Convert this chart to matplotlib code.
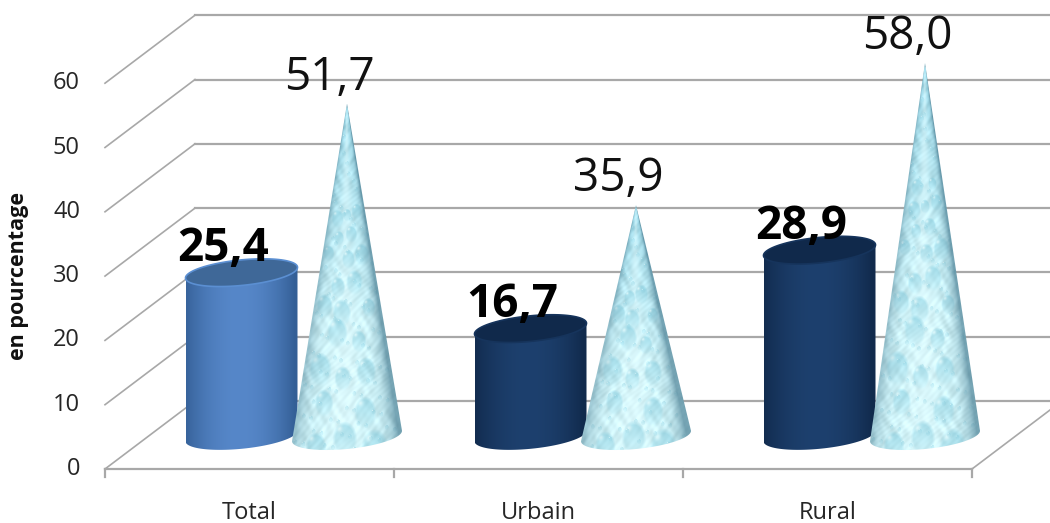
import numpy as np
import matplotlib
matplotlib.use("Agg")
import matplotlib.pyplot as plt
from matplotlib.patches import Polygon
from matplotlib.colors import to_rgb

plt.rcParams['font.family'] = ['Open Sans', 'DejaVu Sans']

# ---- data ----
categories = ['Total', 'Urbain', 'Rural']
series_cyl = [25.4, 16.7, 28.9]
series_cone = [51.7, 35.9, 58.0]
yticks = [0, 10, 20, 30, 40, 50, 60]
ylabel = 'en pourcentage'

W, H = 1050, 523
PX_CAT = 289.0          # pixels per category
PX_VAL = 6.43           # pixels per value unit
X0_PX, Y0_PX = 249.5, 469.0

fig = plt.figure(figsize=(W / 100, H / 100), dpi=100, facecolor='white')
ax = fig.add_axes([0, 0, 1, 1])
ax.set_axis_off()
xlim = (-X0_PX / PX_CAT, (W - X0_PX) / PX_CAT)
ylim = (-(H - Y0_PX) / PX_VAL, Y0_PX / PX_VAL)


def dx(px):
    return px / PX_CAT


def dy(px):
    return px / PX_VAL


GRID = '#a8a8a8'
TXT = '#262626'
DEPTH_X, DEPTH_Y = dx(90), dy(68)
left, right = -0.5, len(categories) - 0.5

# walls / floor
for t in yticks:
    ax.plot([left, left + DEPTH_X], [t, t + DEPTH_Y], color=GRID, lw=1.2, zorder=1)
    ax.plot([left + DEPTH_X, xlim[1]], [t + DEPTH_Y, t + DEPTH_Y], color=GRID, lw=1.6, zorder=1)
    ax.text(left - dx(25), t, str(t), ha='right', va='center', fontsize=17, color=TXT)
ax.plot([right, right + dx(78)], [0, dy(59)], color=GRID, lw=1.2, zorder=1)
ax.plot([left, right], [0, 0], color=GRID, lw=1.6, zorder=1)
for i in range(len(categories) + 1):
    ax.plot([left + i] * 2, [0, -dy(8)], color=GRID, lw=1.6, zorder=1)
for i, c in enumerate(categories):
    ax.text(i, -dy(44), c, ha='center', va='center', fontsize=17, color=TXT)
ax.text(dx(19 - X0_PX), dy(Y0_PX - 276), ylabel, rotation=90, ha='center', va='center',
        fontsize=15.5, fontweight='bold', color='#111111')

BASE_CYL = dy(469 - 436)     # foot of the cylinders over the front axis
BASE_CONE = dy(469 - 436)    # foot of the cones over the front axis
SHEAR = -0.095               # tilt of the ellipses (px/px)


def ellipse(cx, cy, a, b, t):
    """cx in categories, cy in values; a, b in px."""
    return np.column_stack([cx + dx(a * np.cos(t)),
                            cy + dy(-SHEAR * a * np.cos(t) + b * np.sin(t))])


def cyl_gradient(c_edge, c_mid):
    s = np.linspace(-1, 1, 200)
    k = np.clip(1 - np.abs(s + 0.05) ** 2.0, 0, 1)[None, :, None]
    return np.array(to_rgb(c_edge)) * (1 - k) + np.array(to_rgb(c_mid)) * k


def cone_texture(w, h):
    y, x = np.mgrid[0:h, 0:w].astype(float)
    v = (y + 0.5) / h                      # 0 at the tip, 1 at the base
    half = np.maximum(v * w / 2, 0.5)
    s = (x + 0.5 - w / 2) / half
    top = np.array([0.62, 0.85, 0.91])
    bot = np.array([0.82, 0.96, 0.98])
    mott = (0.30 * np.sin(x * 0.55 + np.sin(y * 0.13) * 3)
            + 0.30 * np.sin(y * 0.31 + np.sin(x * 0.21) * 3)
            + 0.20 * np.sin((x + y) * 0.93 + np.sin(y * 0.07) * 4)
            + 0.20 * np.sin((x - 1.3 * y) * 0.17))
    vv = np.clip(v * 1.6, 0, 1)[..., None]
    img = top * (1 - vv) + bot * vv
    img = img + mott[..., None] * 0.085
    # soft white band down the middle
    band = (np.exp(-((s + 0.05) / 0.35) ** 2) * 0.45)[..., None]
    img = img * (1 - band) + np.array([0.90, 0.99, 1.0]) * band
    blue = np.array([0.52, 0.80, 0.87])
    light = np.array([0.93, 1.0, 1.0])

    def drop(xc, yc, rx, ry, strength):
        nonlocal img
        x0, x1 = max(int(xc - rx - 2), 0), min(int(xc + rx + 3), w)
        y0, y1 = max(int(yc - ry - 2), 0), min(int(yc + ry + 3), h)
        if x1 <= x0 or y1 <= y0:
            return
        xx, yy_ = x[y0:y1, x0:x1], y[y0:y1, x0:x1]
        d = np.sqrt(((xx - xc) / rx) ** 2 + ((yy_ - yc) / ry) ** 2)
        a = np.clip((1 - d) * 4, 0, 1)
        t = np.clip((yy_ - yc) / ry * 0.5 + 0.5, 0, 1)
        al = (a * strength * (1 - 0.85 * t))[..., None]
        sub = img[y0:y1, x0:x1] * (1 - al) + blue * al
        hl = np.exp(-(((xx - xc + 0.45 * rx) / (0.25 * rx)) ** 2 + ((yy_ - yc + 0.6 * ry) / (0.18 * ry)) ** 2))
        hl = (hl * 0.7 * a)[..., None]
        img[y0:y1, x0:x1] = sub * (1 - hl) + light * hl

    # big droplets following the cone's taper, staggered irregularly
    row, yy = 0, h - 10.0
    k = 1
    while yy > 0.30 * h:
        hw = yy / h * w / 2
        r = max(2.0, 0.17 * hw + 2.5)
        for f in ((-0.66, -0.05, 0.58) if row % 2 == 0 else (-0.36, 0.30)):
            jx = ((k * 0.7548777) % 1 - 0.5) * 0.28
            jy = ((k * 0.5698403) % 1 - 0.5) * r * 1.6
            size = 0.75 + 0.5 * ((k * 0.3247) % 1)
            drop(w / 2 + (f + jx) * hw, yy + jy, r * size, r * size * 1.5, 0.62)
            k += 1
        yy -= r * 3.4
        row += 1
    # small bubbles on a golden-ratio sequence
    for k in range(1, int(h * 0.28)):
        fy = np.sqrt((k * 0.7548777) % 1)
        fx = (k * 0.5698403) % 1
        yc = fy * h
        drop(w / 2 + (2 * fx - 1) * yc / h * w / 2, yc, 2.2, 2.8, 0.40)

    # rounded shading to the sides, stronger on the right
    shade = np.clip(np.abs(s), 0, 1) ** 5
    shade = shade * np.where(s > 0, 0.70, 0.42)
    shade = shade[..., None]
    img = img * (1 - shade) + np.array([0.30, 0.50, 0.58]) * shade
    return np.clip(img, 0, 1)


CYL_STYLES = [('#345f96', '#5687c9', '#3f6898', '#5b8fd2'),
              ('#112a4c', '#1d406e', '#10294b', '#16345c'),
              ('#112a4c', '#1d406e', '#10294b', '#16345c')]
CYL_A, CYL_B = 56.0, 12.8
CYL_OFF = dx(-8)
CONE_OFF = dx(97.5)
CONE_A, CONE_B = 55.0, 13.0

tt = np.linspace(0, 2 * np.pi, 200)
front = np.linspace(np.pi, 2 * np.pi, 100)
back = np.linspace(0, np.pi, 100)

for i, (val, cval) in enumerate(zip(series_cyl, series_cone)):
    # cylinder
    cx = i + CYL_OFF
    edge, mid, top_c, rim = CYL_STYLES[i]
    outline = np.vstack([ellipse(cx, BASE_CYL, CYL_A, CYL_B, front),
                         ellipse(cx, BASE_CYL + val, CYL_A, CYL_B, back)])
    clip = Polygon(outline, closed=True, transform=ax.transData, fc='none', ec='none')
    ax.add_patch(clip)
    im = ax.imshow(cyl_gradient(edge, mid), aspect='auto', zorder=3, interpolation='bilinear',
                   extent=(cx - dx(CYL_A), cx + dx(CYL_A), BASE_CYL - dy(40), BASE_CYL + val + dy(40)))
    im.set_clip_path(clip)
    ax.add_patch(Polygon(ellipse(cx, BASE_CYL + val, CYL_A, CYL_B, tt), closed=True,
                         fc=top_c, ec=rim, lw=1.2, zorder=4))
    ax.text(cx + dx(-18), BASE_CYL + val + dy(24), f'{val:.1f}'.replace('.', ','),
            ha='center', va='center', fontsize=33, fontweight='bold', color='black', zorder=8)

    # cone
    cx = i + CONE_OFF
    tip = np.array([[cx, BASE_CONE + cval]])
    outline = np.vstack([tip, ellipse(cx, BASE_CONE, CONE_A, CONE_B, np.linspace(0, -np.pi, 100))])
    clip = Polygon(outline, closed=True, transform=ax.transData, fc='none', ec='none')
    ax.add_patch(clip)
    w_px = int(2 * CONE_A)
    h_px = int(cval * PX_VAL + 20)
    im = ax.imshow(cone_texture(w_px, h_px), aspect='auto', zorder=5, interpolation='bilinear',
                   extent=(cx - dx(CONE_A), cx + dx(CONE_A), BASE_CONE + cval - dy(h_px), BASE_CONE + cval))
    im.set_clip_path(clip)
    ax.text(cx + dx(-18), BASE_CONE + cval + dy(26), f'{cval:.1f}'.replace('.', ','),
            ha='center', va='center', fontsize=33, color='#111111', zorder=8)

ax.set_xlim(*xlim)
ax.set_ylim(*ylim)
fig.savefig('out.png', dpi=100, facecolor='white')
